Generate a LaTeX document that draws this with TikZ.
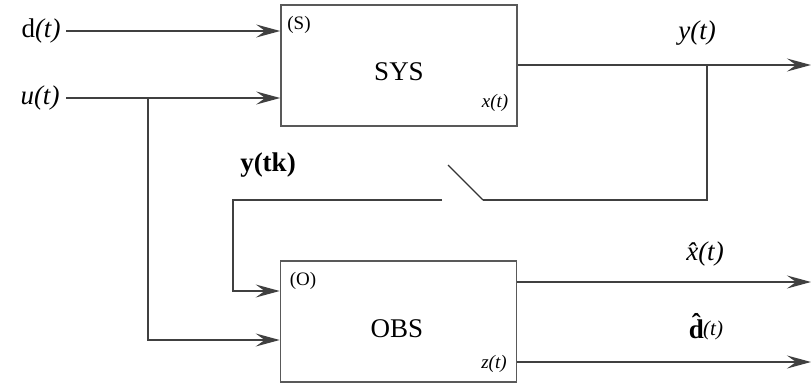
\documentclass[tikz,border=0pt]{standalone}
\usepackage{fontspec}
\setmainfont{Liberation Serif}
\usetikzlibrary{arrows.meta}
\begin{document}
\begin{tikzpicture}[x=1pt,y=-1pt,
  wire/.style={line width=1.3pt,draw=black!75},
  sig/.style={wire,-{Stealth[length=24pt,width=13pt,inset=9pt]}},
  blockbox/.style={draw=black!65,line width=1.6pt,minimum width=236pt,minimum height=121pt,inner sep=0pt},
  lbl/.style={font=\fontsize{27}{30}\selectfont,inner sep=0pt},
  tag/.style={font=\fontsize{19}{21}\selectfont,inner sep=0pt}]
\useasboundingbox (0,0) rectangle (811,391);
% blocks
\node[blockbox] (sys) at (399,65.5) {};
\node[blockbox] (obs) at (398.5,321.5) {};
\node[lbl] (systxt) at (399,72) {SYS};
\node[lbl] (obstxt) at (397,329) {OBS};
\node[tag] (stag) at (299,25) {(S)};
\node[tag] (xtag) at (495,103) {\itshape x(t)};
\node[tag] (otag) at (303,281) {(O)};
\node[tag] (ztag) at (494,364) {\itshape z(t)};
% inputs
\node[lbl] (din) at (41,31) {d\textit{(t)}};
\node[lbl] (uin) at (40,98) {\textit{u(t)}};
\coordinate (dstart) at (66,31);
\coordinate (ustart) at (66,98);
\draw[sig] (dstart) -- (sys.west |- dstart);
\draw[sig] (ustart) -- (sys.west |- ustart);
\coordinate (ubr) at (148,98);
\coordinate (ulow) at (148,340);
\draw[sig] (ubr) -- (ulow) -- (obs.west |- ulow);
% output y(t) and sampled feedback
\coordinate (yout) at (811,65);
\coordinate (ybr) at (707,65);
\draw[sig] (sys.east |- yout) -- (yout);
\node[lbl] (ylbl) at (697,33) {\textit{y(t)}};
\coordinate (swR) at (483,200);
\coordinate (swT) at (448,165);
\coordinate (swL) at (442,200);
\coordinate (fbc) at (233,200);
\coordinate (fbin) at (233,291);
\draw[wire] (ybr) |- (swR);
\draw[line width=1.3pt,draw=black!80] (swR) -- (swT);
\draw[sig] (swL) -- (fbc) -- (fbin) -- (obs.west |- fbin);
\node[lbl] (ytk) at (268,165) {\textbf{y(tk)}};
% observer outputs
\coordinate (xo) at (811,282);
\coordinate (do) at (811,362);
\draw[sig] (obs.east |- xo) -- (xo);
\draw[sig] (obs.east |- do) -- (do);
\node[lbl,anchor=base] (xhat) at (705,260) {\textit{\^x(t)}};
\node[lbl,anchor=base] (dhat) at (706,338) {\textbf{\^d}\kern-5pt\raisebox{3pt}{\fontsize{21}{22}\selectfont\textit{(t)}}};
\end{tikzpicture}
\end{document}
